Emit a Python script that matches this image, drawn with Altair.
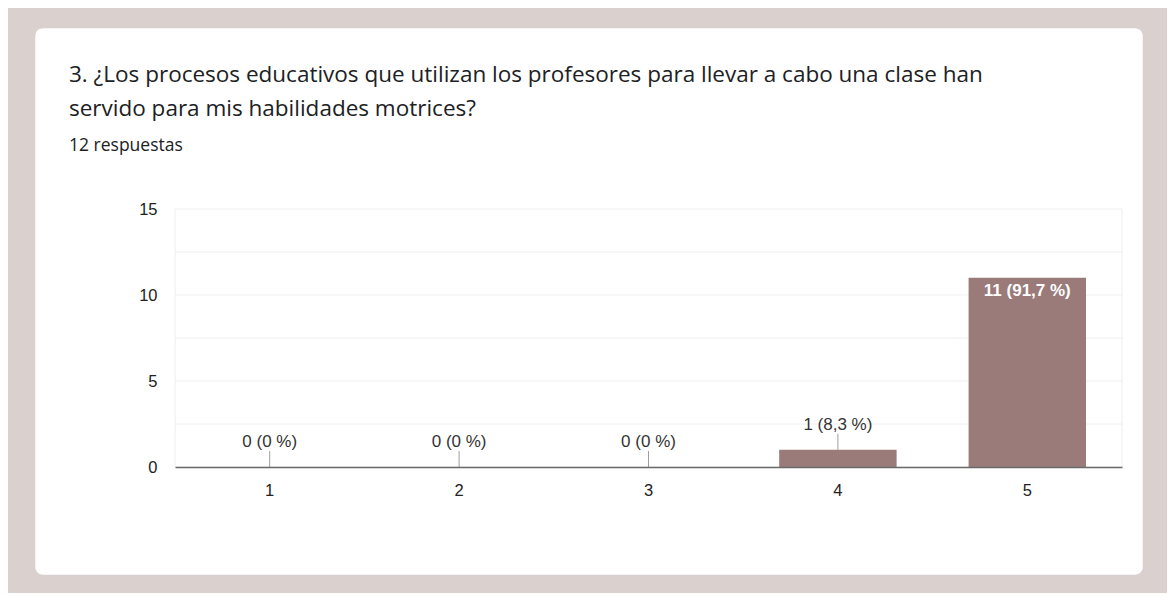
import altair as alt
import pandas as pd

# ---- data ----
categories = ["1", "2", "3", "4", "5"]
counts = [0, 0, 0, 1, 11]
labels = ["0 (0 %)", "0 (0 %)", "0 (0 %)", "1 (8,3 %)", "11 (91,7 %)"]
y_ticks = [0, 2.5, 5, 7.5, 10, 12.5, 15]
title_line1 = "3. ¿Los procesos educativos que utilizan los profesores para llevar a cabo una clase han"
title_line2 = "servido para mis habilidades motrices?"
subtitle = "12 respuestas"

df = pd.DataFrame({"cat": categories, "value": counts, "label": labels})
one = pd.DataFrame({"k": [0]})

BAR = "#9a7b7a"
AXIS_FONT = "Liberation Sans"
TITLE_FONT = "Open Sans"
PLOT_W, PLOT_H = 947, 258

x_enc = alt.X(
    "cat:N",
    sort=categories,
    scale=alt.Scale(paddingInner=0.38, paddingOuter=0.19),
    axis=alt.Axis(
        title=None, labelAngle=0, ticks=False, domain=True, domainColor="#6a6a6a",
        domainWidth=1.5, labelPadding=15, labelFontSize=16.5, labelColor="#222222",
        labelFont=AXIS_FONT, grid=False, zindex=1,
    ),
)
y_scale = alt.Scale(domain=[0, 15], nice=False)
y_axis = alt.Axis(
    title=None, values=y_ticks, ticks=False, domain=False, grid=False,
    labelExpr="datum.value % 5 == 0 ? datum.label : ''",
    labelPadding=18, labelFontSize=16.5, labelColor="#222222", labelFont=AXIS_FONT,
    zindex=1,
)

card = alt.Chart(one).mark_rect(
    color="white", cornerRadius=8, stroke="#d2c9c8", strokeWidth=0.5
).encode(
    x=alt.value(-140), x2=alt.value(968), y=alt.value(-181), y2=alt.value(366)
)

t1 = alt.Chart(one).mark_text(
    text=title_line1, align="left", baseline="middle", font=TITLE_FONT,
    fontSize=22.5, color="#202124"
).encode(x=alt.value(-106), y=alt.value(-134))
t2 = alt.Chart(one).mark_text(
    text=title_line2, align="left", baseline="middle", font=TITLE_FONT,
    fontSize=22.5, color="#202124"
).encode(x=alt.value(-106), y=alt.value(-100))
t3 = alt.Chart(one).mark_text(
    text=subtitle, align="left", baseline="middle", font=TITLE_FONT,
    fontSize=17.5, color="#202124"
).encode(x=alt.value(-106), y=alt.value(-63))

# major + minor grid drawn as its own layer above the white card
grid = alt.Chart(pd.DataFrame({"value": y_ticks})).mark_rule(
    color="#eeeeee", strokeWidth=1
).encode(y=alt.Y("value:Q", scale=y_scale, axis=y_axis))
frame_l = alt.Chart(one).mark_rule(color="#eeeeee", strokeWidth=1).encode(
    x=alt.value(0), y=alt.value(0), y2=alt.value(PLOT_H)
)
frame_r = alt.Chart(one).mark_rule(color="#eeeeee", strokeWidth=1).encode(
    x=alt.value(PLOT_W), y=alt.value(0), y2=alt.value(PLOT_H)
)

bars = alt.Chart(df).mark_bar(color=BAR).encode(
    x=x_enc, y=alt.Y("value:Q", scale=y_scale, axis=y_axis)
)

outside = alt.Chart(df).transform_filter("datum.value < 5")
leader = outside.transform_calculate(top="datum.value + 0.93").mark_rule(
    color="#9e9e9e", strokeWidth=1
).encode(x=alt.X("cat:N", sort=categories), y="value:Q", y2="top:Q")
out_text = outside.mark_text(
    baseline="middle", dy=-25, font=AXIS_FONT, fontSize=17, color="#333333"
).encode(x=alt.X("cat:N", sort=categories), y="value:Q", text="label:N")

in_text = alt.Chart(df).transform_filter("datum.value >= 5").mark_text(
    baseline="middle", dy=13, font=AXIS_FONT, fontSize=17, fontWeight="bold", color="white"
).encode(x=alt.X("cat:N", sort=categories), y="value:Q", text="label:N")

chart = alt.layer(
    card, t1, t2, t3, grid, frame_l, frame_r, bars, leader, out_text, in_text
).properties(
    width=PLOT_W,
    height=PLOT_H,
    background="#dad1cf",
    padding={"left": 167, "top": 201, "right": 45, "bottom": 126},
    autosize=alt.AutoSizeParams(type="none"),
).configure_view(stroke=None)

chart.save("out.html", embed_options={"renderer": "svg", "actions": False})
